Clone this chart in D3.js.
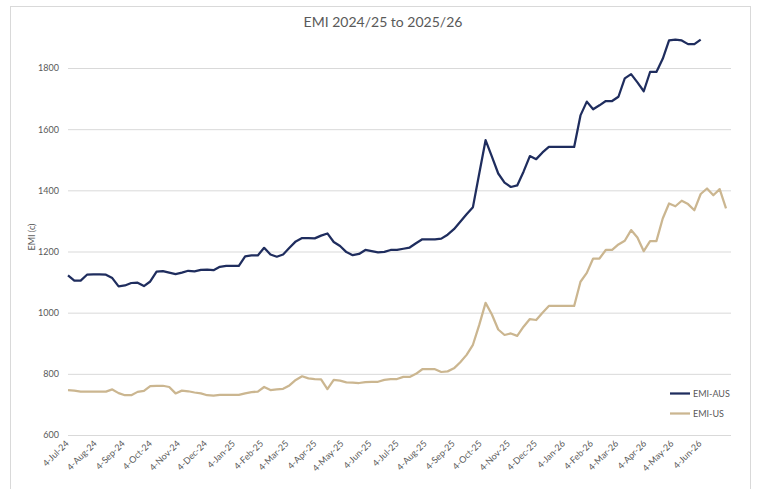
<!DOCTYPE html>
<html><head><meta charset="utf-8">
<script src="https://cdn.jsdelivr.net/npm/d3@7"></script>
<style>body{margin:0;background:#fff;} text{font-family:Lato,'Liberation Sans',sans-serif;}</style>
</head><body><svg id="c" width="758" height="489"></svg>
<script>
// weekly observations starting 4-Jul-2024
const firstWeek = "2024-07-04";
const emiAUS = [1122,1105,1105,1124,1125,1125,1124,1113,1086,1089,1097,1098,1087,1102,1134,1136,1131,1126,1131,1137,
  1135,1140,1141,1139,1150,1153,1153,1153,1184,1187,1187,1212,1190,1183,1190,1212,1233,1244,1244,1243,
  1252,1259,1231,1218,1198,1188,1192,1205,1201,1197,1199,1205,1205,1209,1213,1227,1240,1240,1240,1242,
  1255,1273,1297,1322,1345,1455,1564,1510,1455,1425,1411,1416,1461,1512,1502,1524,1542,1542,1542,1542,
  1542,1645,1690,1665,1678,1692,1692,1706,1766,1780,1753,1724,1787,1787,1830,1890,1893,1890,1878,1878,1893];
const emiUS = [747,745,742,742,742,742,742,749,737,730,730,741,744,760,761,761,757,736,745,743,
  739,736,730,729,731,731,731,731,736,740,742,757,747,749,751,762,780,792,785,783,
  782,750,780,778,772,771,770,773,774,774,780,783,783,790,790,800,815,815,815,806,
  808,818,838,862,895,960,1032,994,945,927,932,924,954,979,976,1000,1022,1022,1022,1022,
  1022,1101,1130,1177,1177,1205,1205,1223,1235,1270,1246,1201,1234,1234,1308,1357,1348,1366,1355,1335,
  1388,1406,1384,1404,1341];
const yTicks = [600,800,1000,1200,1400,1600,1800];
const xTickLabels = ["4-Jul-24","4-Aug-24","4-Sep-24","4-Oct-24","4-Nov-24","4-Dec-24","4-Jan-25","4-Feb-25",
  "4-Mar-25","4-Apr-25","4-May-25","4-Jun-25","4-Jul-25","4-Aug-25","4-Sep-25","4-Oct-25","4-Nov-25","4-Dec-25",
  "4-Jan-26","4-Feb-26","4-Mar-26","4-Apr-26","4-May-26","4-Jun-26"];
const seriesNames = ["EMI-AUS","EMI-US"];
const seriesColors = ["#1f2d5e","#cbb690"];

const svg = d3.select("#c");
const parseISO = d3.timeParse("%Y-%m-%d");
const parseTick = d3.timeParse("%d-%b-%y");
const d0 = parseISO(firstWeek);
const n = Math.max(emiAUS.length, emiUS.length);
const dates = d3.range(n).map(i => d3.timeDay.offset(d0, 7*i));

const plotL = 68, plotR = 731, plotT = 68, plotB = 435;
const x = d3.scaleTime().domain([dates[0], dates[n-1]]).range([68, 726]);
const y = d3.scaleLinear().domain([600, 1800]).range([435, 68]);

// outer frame
svg.append("rect").attr("x",10.5).attr("y",6.5).attr("width",740).attr("height",520)
  .attr("fill","#fff").attr("stroke","#d9d9d9").attr("stroke-width",1);

// title
svg.append("text").attr("x",383).attr("y",27).attr("text-anchor","middle")
  .attr("font-size",14).attr("fill","#595959").text("EMI 2024/25 to 2025/26");

// gridlines + y axis labels
const yAxis = d3.axisLeft(y).tickValues(yTicks).tickSize(0).tickPadding(9).tickFormat(d3.format("d"));
const gy = svg.append("g").attr("transform",`translate(${plotL},0)`).call(yAxis);
gy.select(".domain").remove();
gy.selectAll("text").attr("font-size",9).attr("fill","#595959").attr("font-family","Lato,'Liberation Sans',sans-serif");
svg.append("g").selectAll("line").data(yTicks).join("line")
  .attr("x1",plotL).attr("x2",plotR).attr("y1",d=>y(d)+0.5).attr("y2",d=>y(d)+0.5)
  .attr("stroke","#d9d9d9").attr("stroke-width",1);

// y title
svg.append("text").attr("transform","translate(35,237) rotate(-90)").attr("text-anchor","middle")
  .attr("font-size",9).attr("fill","#595959").text("EMI (c)");

// x axis
const xTicks = xTickLabels.map(s => parseTick(s));
const xAxis = d3.axisBottom(x).tickValues(xTicks).tickSize(0).tickPadding(0).tickFormat(d3.timeFormat("%-d-%b-%y"));
const gx = svg.append("g").attr("transform",`translate(0,${plotB})`).call(xAxis);
gx.select(".domain").remove();
gx.selectAll("text").attr("font-size",9).attr("fill","#595959").attr("font-family","Lato,'Liberation Sans',sans-serif")
  .attr("text-anchor","end").attr("dy","0").attr("y",0)
  .attr("transform","translate(1,9) rotate(-45)");

// lines
const line = d3.line().defined(d => d.v != null).x(d => x(d.date)).y(d => y(d.v));
[emiAUS, emiUS].forEach((arr, k) => {
  const data = dates.map((dt, i) => ({date: dt, v: i < arr.length ? arr[i] : null}));
  svg.append("path").datum(data).attr("d", line).attr("fill","none")
    .attr("stroke", seriesColors[k]).attr("stroke-width",2.25).attr("stroke-linejoin","round");
});

// legend
const lg = svg.append("g");
seriesNames.forEach((name, k) => {
  const ly = 393.5 + k*20;
  lg.append("line").attr("x1",670).attr("x2",690).attr("y1",ly).attr("y2",ly)
    .attr("stroke",seriesColors[k]).attr("stroke-width",2.25);
  lg.append("text").attr("x",693).attr("y",ly+3).attr("font-size",9).attr("fill","#595959").text(name);
});
</script></body></html>
